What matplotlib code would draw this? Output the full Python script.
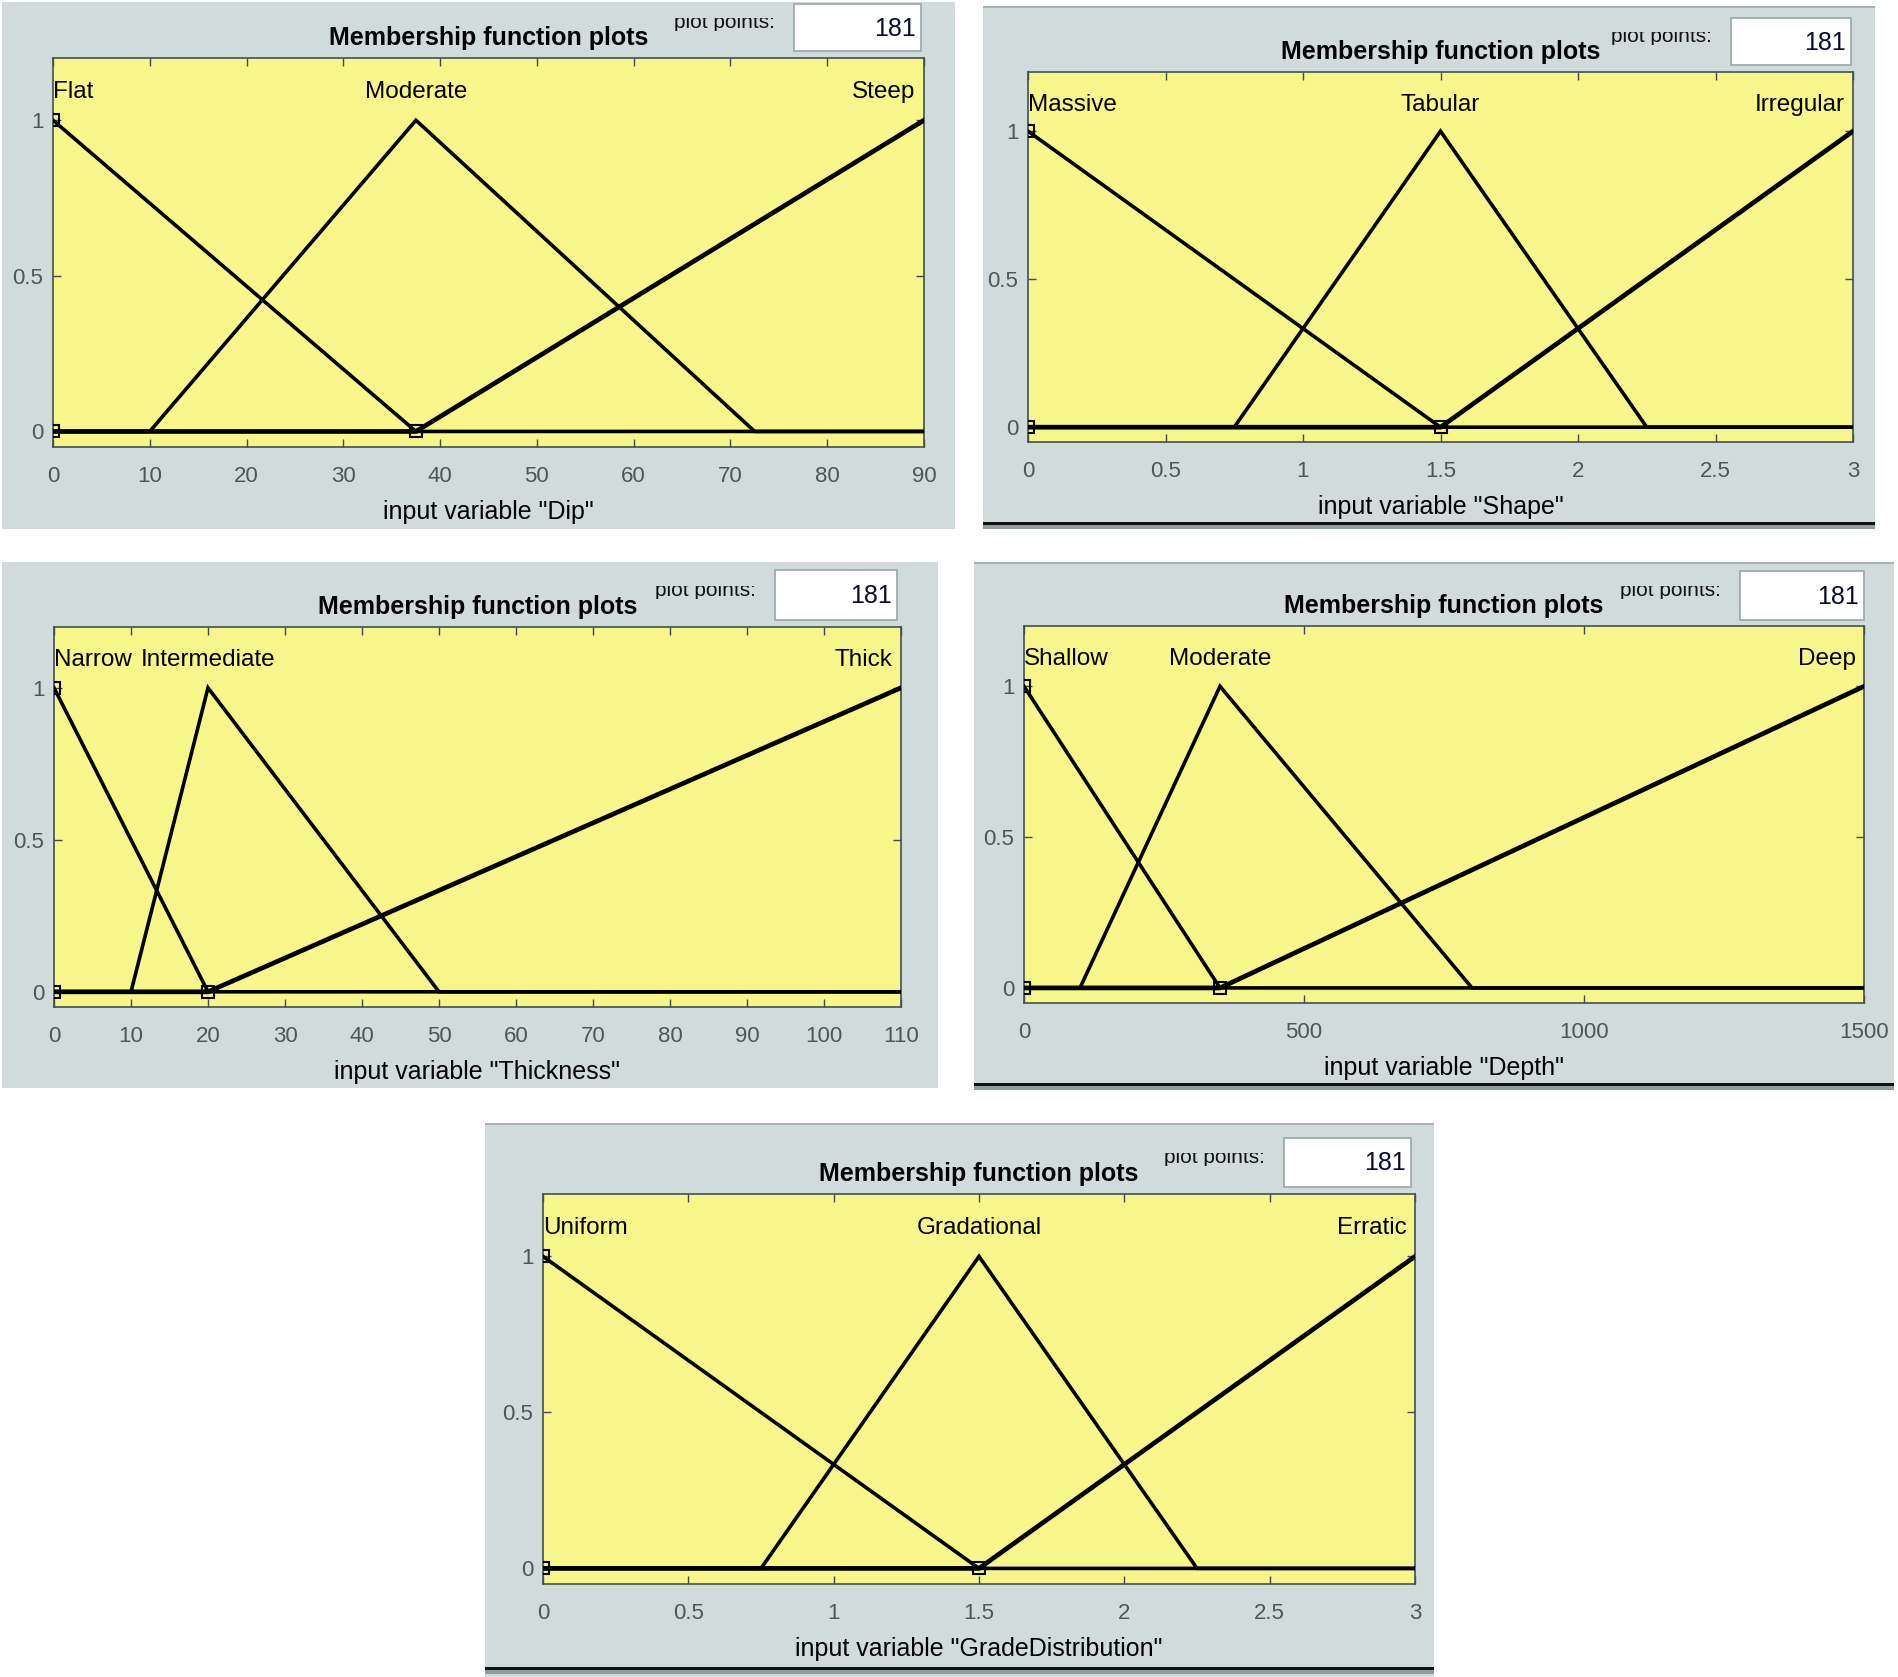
import matplotlib
matplotlib.use('Agg')
import matplotlib.pyplot as plt
from matplotlib.patches import Rectangle
from matplotlib.transforms import Bbox, TransformedBbox

W, H = 1898, 1677
DPI = 100

plt.rcParams['font.family'] = ['Liberation Sans', 'DejaVu Sans']

# ---- data: membership function breakpoints ----
plot_points = '181'

dip_range = [0, 90]
dip_ticks = [0, 10, 20, 30, 40, 50, 60, 70, 80, 90]
dip_names = ['Flat', 'Moderate', 'Steep']
dip_peaks = [0, 37.5, 90]
dip_x = [[0, 37.5, 90], [0, 10, 37.5, 72.5, 90], [0, 37.5, 90]]
dip_y = [[1, 0, 0], [0, 0, 1, 0, 0], [0, 0, 1]]
dip_knots = ([0, 0, 37.5], [1, 0, 0])

shape_range = [0, 3]
shape_ticks = [0, 0.5, 1, 1.5, 2, 2.5, 3]
shape_names = ['Massive', 'Tabular', 'Irregular']
shape_peaks = [0, 1.5, 3]
shape_x = [[0, 1.5, 3], [0, 0.75, 1.5, 2.25, 3], [0, 1.5, 3]]
shape_y = [[1, 0, 0], [0, 0, 1, 0, 0], [0, 0, 1]]
shape_knots = ([0, 0, 1.5], [1, 0, 0])

thick_range = [0, 110]
thick_ticks = [0, 10, 20, 30, 40, 50, 60, 70, 80, 90, 100, 110]
thick_names = ['Narrow', 'Intermediate', 'Thick']
thick_peaks = [0, 20, 110]
thick_x = [[0, 20, 110], [0, 10, 20, 50, 110], [0, 20, 110]]
thick_y = [[1, 0, 0], [0, 0, 1, 0, 0], [0, 0, 1]]
thick_knots = ([0, 0, 20], [1, 0, 0])

depth_range = [0, 1500]
depth_ticks = [0, 500, 1000, 1500]
depth_names = ['Shallow', 'Moderate', 'Deep']
depth_peaks = [0, 350, 1500]
depth_x = [[0, 350, 1500], [0, 100, 350, 800, 1500], [0, 350, 1500]]
depth_y = [[1, 0, 0], [0, 0, 1, 0, 0], [0, 0, 1]]
depth_knots = ([0, 0, 350], [1, 0, 0])

grade_range = [0, 3]
grade_ticks = [0, 0.5, 1, 1.5, 2, 2.5, 3]
grade_names = ['Uniform', 'Gradational', 'Erratic']
grade_peaks = [0, 1.5, 3]
grade_x = [[0, 1.5, 3], [0, 0.75, 1.5, 2.25, 3], [0, 1.5, 3]]
grade_y = [[1, 0, 0], [0, 0, 1, 0, 0], [0, 0, 1]]
grade_knots = ([0, 0, 1.5], [1, 0, 0])

# ---- layout (pixels) ----
PANEL_BG = '#d2dbdb'
AX_BG = '#f6f68a'
TICK_C = '#3f4a4a'
LABEL_C = '#4a5858'

panels = [
    dict(var='Dip', rng=dip_range, ticks=dip_ticks, names=dip_names, peaks=dip_peaks,
         xs=dip_x, ys=dip_y, knots=dip_knots,
         panel=(2, 2, 955, 529), ax=(53, 58, 924, 447), box=(794, 4, 921, 51), line=None),
    dict(var='Shape', rng=shape_range, ticks=shape_ticks, names=shape_names, peaks=shape_peaks,
         xs=shape_x, ys=shape_y, knots=shape_knots,
         panel=(983, 6, 1875, 529), ax=(1028, 72, 1853, 442), box=(1731, 18, 1851, 65), line=522),
    dict(var='Thickness', rng=thick_range, ticks=thick_ticks, names=thick_names, peaks=thick_peaks,
         xs=thick_x, ys=thick_y, knots=thick_knots,
         panel=(2, 562, 938, 1088), ax=(54, 627, 901, 1007), box=(775, 570, 897, 620), line=None),
    dict(var='Depth', rng=depth_range, ticks=depth_ticks, names=depth_names, peaks=depth_peaks,
         xs=depth_x, ys=depth_y, knots=depth_knots,
         panel=(974, 562, 1894, 1090), ax=(1024, 626, 1864, 1003), box=(1740, 571, 1864, 620), line=1083),
    dict(var='GradeDistribution', rng=grade_range, ticks=grade_ticks, names=grade_names, peaks=grade_peaks,
         xs=grade_x, ys=grade_y, knots=grade_knots,
         panel=(485, 1123, 1434, 1677), ax=(543, 1194, 1415, 1584), box=(1284, 1138, 1411, 1187), line=1667),
]


def frac(x0, y0, x1, y1):
    return [x0 / W, 1 - y1 / H, (x1 - x0) / W, (y1 - y0) / H]


def tick_text(v):
    return '%g' % v


fig = plt.figure(figsize=(W / DPI, H / DPI), dpi=DPI)
fig.patch.set_facecolor('white')

for p in panels:
    x0, y0, x1, y1 = p['panel']
    fig.add_artist(Rectangle((x0 / W, 1 - y1 / H), (x1 - x0) / W, (y1 - y0) / H,
                             transform=fig.transFigure, facecolor=PANEL_BG, edgecolor='none', zorder=-5))
    if p['line'] is not None:
        ly = p['line']
        fig.add_artist(Rectangle((x0 / W, 1 - (ly + 7) / H), (x1 - x0) / W, 4 / H,
                                 transform=fig.transFigure, facecolor='#8f9e9c', edgecolor='none', zorder=-4))
        fig.add_artist(Rectangle((x0 / W, 1 - (ly + 3) / H), (x1 - x0) / W, 3 / H,
                                 transform=fig.transFigure, facecolor='#111111', edgecolor='none', zorder=-3))
        fig.add_artist(Rectangle((x0 / W, 1 - (y0 + 1.5) / H), (x1 - x0) / W, 1.5 / H,
                                 transform=fig.transFigure, facecolor='#a7b2b2', edgecolor='none', zorder=-3))

    # "plot points:" box
    bx0, by0, bx1, by1 = p['box']
    fig.add_artist(Rectangle((bx0 / W, 1 - by1 / H), (bx1 - bx0) / W, (by1 - by0) / H,
                             transform=fig.transFigure, facecolor='white', edgecolor='#9aa6a6',
                             linewidth=1.2, zorder=-2))
    bc = (by0 + by1) / 2
    fig.text((bx1 - 5) / W, 1 - (bc + 1) / H, plot_points, ha='right', va='center',
             fontsize=18, color='#0a0a30')
    t = fig.text((bx0 - 19) / W, 1 - (bc + 0.5) / H, 'plot points:', ha='right', va='baseline',
                 fontsize=15, color='#111111')
    clip = TransformedBbox(Bbox([[(bx0 - 140) / W, 1 - (bc + 3.5) / H],
                                 [bx0 / W, 1 - (bc - 9.5) / H]]), fig.transFigure)
    t.set_clip_box(clip)
    t.set_clip_on(True)

    # axes
    ax0, ay0, ax1, ay1 = p['ax']
    ax = fig.add_axes(frac(*p['ax']))
    ax.set_facecolor(AX_BG)
    ax.set_xlim(p['rng'])
    ax.set_ylim(-0.05, 1.2)
    ax.set_xticks(p['ticks'])
    ax.set_xticklabels([tick_text(v) for v in p['ticks']])
    ax.set_yticks([0, 0.5, 1])
    ax.set_yticklabels(['0', '0.5', '1'])
    ax.tick_params(direction='in', length=5.5, width=1.0, color=TICK_C, labelcolor=LABEL_C,
                   labelsize=16, top=True, right=True)
    ax.tick_params(axis='x', pad=13.5)
    ax.tick_params(axis='y', pad=7)
    for s in ax.spines.values():
        s.set_color('#44504f')
        s.set_linewidth(1.2)

    n = len(p['names'])
    for i in range(n):
        lw = 3.4 if i == n - 1 else 2.6
        ax.plot(p['xs'][i], p['ys'][i], color='black', linewidth=lw, solid_joinstyle='miter', zorder=3)
    ax.plot(p['knots'][0], p['knots'][1], 's', ms=8, mfc='none', mec='black', mew=1.5, zorder=4)

    for i, name in enumerate(p['names']):
        if i == 0:
            ha, dx = 'left', 0
        elif i == n - 1:
            ha, dx = 'right', -6
        else:
            ha, dx = 'center', 0
        ax.annotate(name, (p['peaks'][i], 1.09), xytext=(dx, 0), textcoords='offset points',
                    ha=ha, va='center', fontsize=17.5, color='black', annotation_clip=False)

    h = ay1 - ay0
    ax.set_xlabel('input variable "%s"' % p['var'], fontsize=18, color='black')
    ax.xaxis.label.set_va('center')
    ax.xaxis.set_label_coords(0.5, -65 / h)
    ax.text(0.5, 1 + 20 / h, 'Membership function plots', transform=ax.transAxes,
            ha='center', va='center', fontsize=18, fontweight='bold', color='black')

fig.savefig('out.png', dpi=DPI, facecolor='white')
